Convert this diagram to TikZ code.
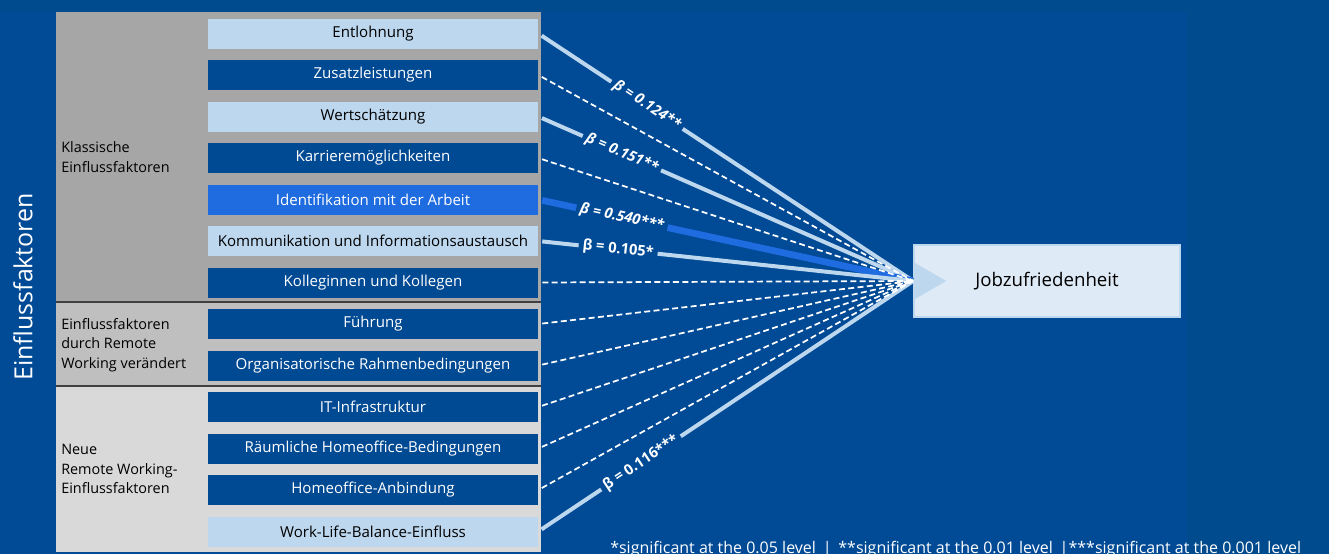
\documentclass[tikz,border=0pt]{standalone}
\usepackage{fontspec}
\setmainfont{Open Sans}
\usetikzlibrary{positioning}

\definecolor{bgblue}{HTML}{004A96}
\definecolor{bgedge}{HTML}{004B8D}
\definecolor{lightbox}{HTML}{BDD7EE}
\definecolor{darkbox}{HTML}{004A94}
\definecolor{keybox}{HTML}{1F6CE0}
\definecolor{targetbox}{HTML}{DEEAF6}
\definecolor{greyA}{HTML}{A6A6A6}
\definecolor{greyB}{HTML}{BFBFBF}
\definecolor{greyC}{HTML}{D9D9D9}

\tikzset{
  factor/.style={minimum width=247.5pt,minimum height=22.5pt,inner sep=0pt,
    font=\fontsize{11.3}{13}\selectfont},
  lightfactor/.style={factor,fill=lightbox,text=black},
  darkfactor/.style={factor,fill=darkbox,text=white},
  keyfactor/.style={factor,fill=keybox,text=white},
  grouplabel/.style={anchor=west,align=left,inner sep=0pt,text=black,
    font=\fontsize{10.8}{14.8}\selectfont},
  effect/.style={lightbox,line width=3pt,shorten <=3pt},
  noeffect/.style={white,line width=1.3pt,dash pattern=on 4.5pt off 2.5pt,shorten <=3pt},
  betalabel/.style={sloped,fill=bgblue,text=white,inner xsep=3pt,inner ysep=1pt,
    font=\bfseries\fontsize{11}{13}\selectfont}
}

\begin{document}
\begin{tikzpicture}[x=0.75pt,y=-0.75pt]
\useasboundingbox (0,0) rectangle (1329,554);
\fill[bgedge] (0,0) rectangle (1329,554);
\fill[bgblue] (0,12) rectangle (1187,554);

% grey panel with the three groups
\fill[greyA] (56,12) rectangle (541,302);
\fill[greyB] (56,302) rectangle (541,386);
\fill[greyC] (56,386) rectangle (541,552);
\draw[black!75,line width=1.2pt] (56,302) -- (541,302);
\draw[black!75,line width=1.2pt] (56,386) -- (541,386);

\node[rotate=90,text=white,font=\fontsize{18.7}{20}\selectfont] (title) at (23,287) {Einflussfaktoren};

\node[grouplabel] (klassisch) at (61,157) {Klassische\\Einflussfaktoren};
\node[grouplabel] (veraendert) at (61,345) {Einflussfaktoren\\durch Remote\\Working verändert};
\node[grouplabel] (neu) at (61,469) {Neue\\Remote Working-\\Einflussfaktoren};

% factors
\node[lightfactor] (entlohnung) at (373,33.5) {Entlohnung};
\node[darkfactor] (zusatz) at (373,75) {Zusatzleistungen};
\node[lightfactor] (wert) at (373,116.5) {Wertschätzung};
\node[darkfactor] (karriere) at (373,158) {Karrieremöglichkeiten};
\node[keyfactor] (ident) at (373,199.5) {Identifikation mit der Arbeit};
\node[lightfactor] (komm) at (373,241) {Kommunikation und Informationsaustausch};
\node[darkfactor] (kollegen) at (373,282.5) {Kolleginnen und Kollegen};
\node[darkfactor] (fuehrung) at (373,324) {Führung};
\node[darkfactor] (orga) at (373,365.5) {Organisatorische Rahmenbedingungen};
\node[darkfactor] (it) at (373,407) {IT-Infrastruktur};
\node[darkfactor] (raum) at (373,448.5) {Räumliche Homeoffice-Bedingungen};
\node[darkfactor] (anbindung) at (373,490) {Homeoffice-Anbindung};
\node[lightfactor] (wlb) at (373,531.5) {Work-Life-Balance-Einfluss};

% target
\node[minimum width=199.5pt,minimum height=54pt,fill=targetbox,draw=lightbox,line width=1.2pt,
  font=\fontsize{14}{16}\selectfont] (jz) at (1047,281) {Jobzufriedenheit};
\fill[lightbox] (jz.west) ++(0,-19) -- ++(33,19) -- ++(-33,19) -- cycle;

% significant effects
\draw[effect] (entlohnung.east) -- node[betalabel,pos=0.29] {\itshape β = 0.124**} (jz.west);
\draw[effect] (wert.east) -- node[betalabel,pos=0.223] {\itshape β = 0.151**} (jz.west);
\draw[keybox,line width=5pt,shorten <=3pt] (ident.east) -- node[betalabel,pos=0.223] {\itshape β = 0.540***} (jz.west);
\draw[effect] (komm.east) -- node[betalabel,pos=0.213] {β = 0.105*} (jz.west);
\draw[effect] (wlb.east) -- node[betalabel,pos=0.274] {β = 0.116***} (jz.west);

% non-significant effects
\draw[noeffect] (zusatz.east) -- (jz.west);
\draw[noeffect] (karriere.east) -- (jz.west);
\draw[noeffect] (kollegen.east) -- (jz.west);
\draw[noeffect] (fuehrung.east) -- (jz.west);
\draw[noeffect] (orga.east) -- (jz.west);
\draw[noeffect] (it.east) -- (jz.west);
\draw[noeffect] (raum.east) -- (jz.west);
\draw[noeffect] (anbindung.east) -- (jz.west);

\node[anchor=base west,inner sep=0pt,text=white,font=\fontsize{12}{14}\selectfont] (note) at (610,553)
  {*significant at the 0.05 level \,|\, **significant at the 0.01 level \,|***significant at the 0.001 level};
\end{tikzpicture}
\end{document}
